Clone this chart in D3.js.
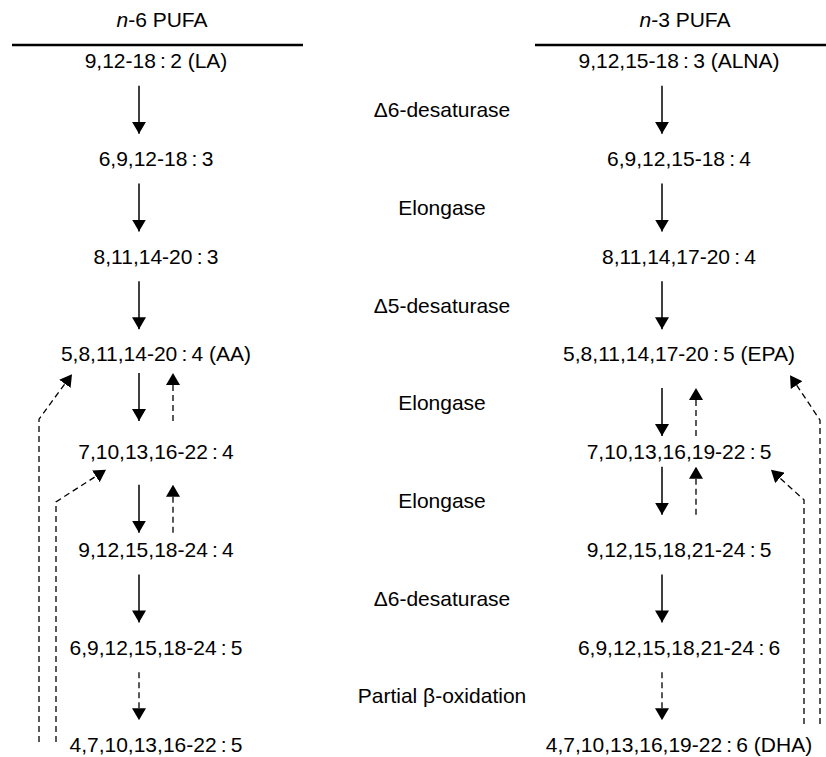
<!DOCTYPE html>
<html>
<head>
<meta charset="utf-8">
<script src="https://cdn.jsdelivr.net/npm/d3@7"></script>
<style>
  body { margin: 0; background: #fff; }
  svg { display: block; }
  text { font-family: "Liberation Sans", Arial, Helvetica, sans-serif; font-size: 21px; fill: #000; }
</style>
</head>
<body>
<svg id="chart" width="826" height="757"></svg>
<script>
// fatty acids of each series, top to bottom
const n6Acids = [
  "9,12-18:2 (LA)", "6,9,12-18:3", "8,11,14-20:3", "5,8,11,14-20:4 (AA)",
  "7,10,13,16-22:4", "9,12,15,18-24:4", "6,9,12,15,18-24:5", "4,7,10,13,16-22:5"
];
const n3Acids = [
  "9,12,15-18:3 (ALNA)", "6,9,12,15-18:4", "8,11,14,17-20:4", "5,8,11,14,17-20:5 (EPA)",
  "7,10,13,16,19-22:5", "9,12,15,18,21-24:5", "6,9,12,15,18,21-24:6", "4,7,10,13,16,19-22:6 (DHA)"
];
// enzyme acting between row i and row i+1
const enzymes = [
  "Δ6-desaturase", "Elongase", "Δ5-desaturase", "Elongase",
  "Elongase", "Δ6-desaturase", "Partial β-oxidation"
];
const seriesKeys = ["n6", "n3"];
const seriesTitles = ["-6 PUFA", "-3 PUFA"];
// forward step kind (step i goes row i -> row i+1)
const stepKinds = ["solid", "solid", "solid", "solid", "solid", "solid", "dashed"];
// reverse (retroconversion) steps, row i+1 -> row i
const reverseSteps = [3, 4];
// long retroconversion links from the last row
const retroLinks = [
  { from: 7, to: 3 },
  { from: 7, to: 4 }
];

const svg = d3.select("#chart");

const y = d3.scaleLinear().domain([0, 7]).range([61, 745]);
const x = d3.scaleOrdinal().domain(["n6", "enzyme", "n3"]).range([156, 442, 679]);

const fmt = s => s.replace(":", "\u2009:\u2009");

// arrow head
svg.append("defs").append("marker")
  .attr("id", "head")
  .attr("viewBox", "0 -7 12 14")
  .attr("refX", 12)
  .attr("refY", 0)
  .attr("markerWidth", 12)
  .attr("markerHeight", 14)
  .attr("markerUnits", "userSpaceOnUse")
  .attr("orient", "auto")
  .append("path")
  .attr("d", "M0,-7L12,0L0,7Z")
  .attr("fill", "#000");

// ---------- headers ----------
seriesKeys.forEach((key, i) => {
  const cx = x(key);
  svg.append("line")
    .attr("x1", cx - 144).attr("x2", cx + 147)
    .attr("y1", 45).attr("y2", 45)
    .attr("stroke", "#000")
    .attr("stroke-width", 2.6);

  const t = svg.append("text")
    .attr("x", cx + 6)
    .attr("y", 27)
    .attr("text-anchor", "middle");
  t.append("tspan").attr("font-style", "italic").text("n");
  t.append("tspan").text(seriesTitles[i]);
});

// ---------- fatty acid labels ----------
[n6Acids, n3Acids].forEach((acids, i) => {
  svg.append("g")
    .selectAll("text")
    .data(acids)
    .join("text")
    .attr("x", x(seriesKeys[i]))
    .attr("y", (d, j) => y(j))
    .attr("dy", "0.35em")
    .attr("text-anchor", "middle")
    .text(d => fmt(d));
});

// ---------- enzyme labels ----------
svg.append("g")
  .selectAll("text")
  .data(enzymes)
  .join("text")
  .attr("x", x("enzyme"))
  .attr("y", (d, i) => (y(i) + y(i + 1)) / 2)
  .attr("dy", "0.35em")
  .attr("text-anchor", "middle")
  .text(d => d);

// ---------- step arrows ----------
// small vertical shifts where arrows crowd toward one label
const nudge = { "n6-3": -6, "n6-4": 8, "n3-3": 9, "n3-4": -10 };
const half = 24;

function stepMid(key, i) {
  return (y(i) + y(i + 1)) / 2 + (nudge[`${key}-${i}`] || 0);
}

seriesKeys.forEach(key => {
  const g = svg.append("g");

  g.selectAll("line.fwd")
    .data(stepKinds)
    .join("line")
    .attr("class", "fwd")
    .attr("x1", x(key) - 17).attr("x2", x(key) - 17)
    .attr("y1", (d, i) => stepMid(key, i) - half)
    .attr("y2", (d, i) => stepMid(key, i) + half)
    .attr("stroke", "#000")
    .attr("stroke-width", d => d === "solid" ? 1.5 : 1.3)
    .attr("stroke-dasharray", d => d === "solid" ? null : "6,4")
    .attr("marker-end", "url(#head)");

  g.selectAll("line.rev")
    .data(reverseSteps)
    .join("line")
    .attr("class", "rev")
    .attr("x1", x(key) + 17).attr("x2", x(key) + 17)
    .attr("y1", d => stepMid(key, d) + half)
    .attr("y2", d => stepMid(key, d) - half)
    .attr("stroke", "#000")
    .attr("stroke-width", 1.3)
    .attr("stroke-dasharray", "6,4")
    .attr("marker-end", "url(#head)");
});

// ---------- long retroconversion arrows ----------
// lane / bend / tip geometry relative to the series column
const lanes = {
  n6: { bottom: -3, links: [
    { lane: -117, bend: 65, tipX: -84, tipY: 20 },
    { lane: -100, bend: 50, tipX: -50, tipY: 18 }
  ] },
  n3: { bottom: -21, links: [
    { lane: 141, bend: 66, tipX: 111, tipY: 21 },
    { lane: 125, bend: 48, tipX: 92, tipY: 18 }
  ] }
};

seriesKeys.forEach(key => {
  const cx = x(key);
  const L = lanes[key];
  svg.append("g")
    .selectAll("path")
    .data(retroLinks)
    .join("path")
    .attr("d", (d, i) => {
      const g = L.links[i];
      return d3.line()([
        [cx + g.lane, y(d.from) + L.bottom],
        [cx + g.lane, y(d.to) + g.bend],
        [cx + g.tipX, y(d.to) + g.tipY]
      ]);
    })
    .attr("fill", "none")
    .attr("stroke", "#000")
    .attr("stroke-width", 1.3)
    .attr("stroke-dasharray", "6,4")
    .attr("marker-end", "url(#head)");
});
</script>
</body>
</html>
